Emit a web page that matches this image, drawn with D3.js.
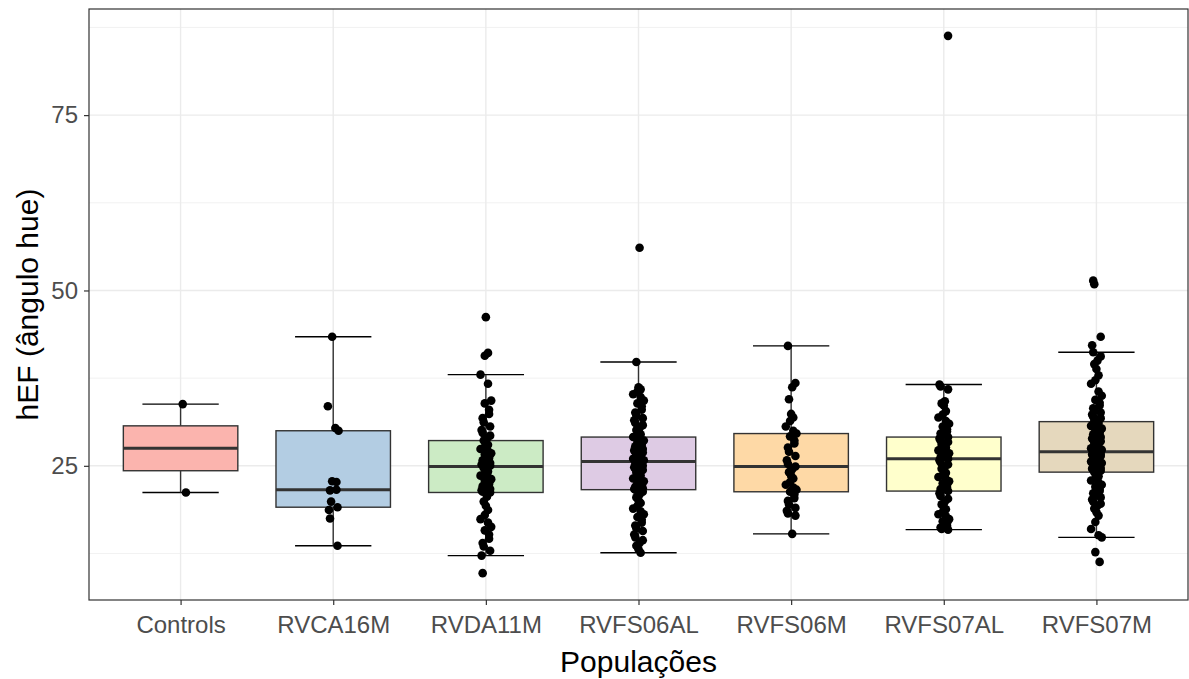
<!DOCTYPE html>
<html>
<head>
<meta charset="utf-8">
<script src="https://cdn.jsdelivr.net/npm/d3@7/dist/d3.min.js"></script>
<style>
  body { margin: 0; background: #fff; }
  svg text { font-family: "Liberation Sans", Arial, sans-serif; }
</style>
</head>
<body>
<div id="chart"></div>
<script>
// populations on the x axis
var populations = ["Controls", "RVCA16M", "RVDA11M", "RVFS06AL", "RVFS06M", "RVFS07AL", "RVFS07M"];

// box statistics
var whiskerLow  = [21.2, 13.6, 12.2, 12.6, 15.3, 15.9, 14.8];
var q1          = [24.3, 19.1, 21.2, 21.6, 21.3, 21.4, 24.1];
var medians     = [27.5, 21.6, 24.9, 25.6, 24.9, 26.0, 27.0];
var q3          = [30.7, 30.0, 28.6, 29.1, 29.6, 29.1, 31.3];
var whiskerHigh = [33.8, 43.4, 38.0, 39.8, 42.1, 36.6, 41.2];

// individual observations (hue angle) per population
var ptsControls = [33.8, 21.2];
var ptsRVCA16M = [43.4, 33.5, 30.4, 30.0, 22.8, 22.7, 21.6, 21.5, 19.9, 19.1, 18.7, 17.5, 13.6];
var ptsRVDA11M = [46.2, 41.1, 40.7, 38.0, 36.7, 34.3, 33.9, 33.0, 32.4, 31.8, 31.2, 30.6, 30.1, 29.7, 29.3, 28.9, 28.6,
  28.3, 28.0, 27.7, 27.4, 27.1, 26.8, 26.6, 26.3, 26.1, 25.8, 25.6, 25.4, 25.2, 25.1, 25.0, 24.9,
  24.7, 24.4, 24.2, 23.9, 23.6, 23.4, 23.1, 22.9, 22.6, 22.4, 22.1, 21.9, 21.7, 21.5, 21.3, 21.2,
  20.6, 19.9, 19.3, 18.7, 18.0, 17.4, 16.9, 16.3, 15.8, 15.2, 14.6, 14.0, 13.5, 12.9, 12.2, 9.7];
var ptsRVFS06AL = [56.1, 39.8, 36.2, 35.9, 35.6, 35.2, 34.8, 34.3, 33.9, 33.5, 33.0, 32.6, 32.2, 31.8, 31.5, 31.1, 30.8, 30.4, 30.1, 29.8, 29.5, 29.3, 29.1,
  28.9, 28.6, 28.4, 28.2, 28.0, 27.8, 27.6, 27.4, 27.2, 27.0, 26.9, 26.7, 26.5, 26.4, 26.3, 26.1, 26.0, 25.9, 25.8, 25.7, 25.7, 25.6,
  25.4, 25.2, 25.0, 24.8, 24.6, 24.4, 24.2, 24.0, 23.8, 23.6, 23.4, 23.2, 23.0, 22.8, 22.6, 22.4, 22.2, 22.0, 21.9, 21.8, 21.7, 21.6,
  21.3, 20.9, 20.5, 20.1, 19.7, 19.3, 18.9, 18.5, 18.1, 17.7, 17.3, 16.9, 16.5, 16.1, 15.7, 15.2, 14.8, 14.4, 14.0, 13.6, 13.1, 12.6];
var ptsRVFS06M = [42.1, 36.8, 36.2, 34.5, 32.4, 31.9, 31.4, 30.6, 30.0, 29.6,
  29.2, 28.6, 28.2, 27.6, 27.0, 26.4, 25.8, 25.3, 24.9,
  24.5, 24.1, 23.6, 23.2, 22.7, 22.3, 21.9, 21.6, 21.3,
  20.9, 20.4, 20.0, 19.5, 19.0, 18.6, 18.2, 17.9, 15.3];
var ptsRVFS07AL = [86.3, 36.6, 36.3, 35.9, 34.2, 33.9, 33.6, 32.8, 32.3, 31.9, 31.4, 31.0, 30.6, 30.2, 29.9, 29.6, 29.3, 29.1,
  28.9, 28.6, 28.4, 28.2, 28.0, 27.8, 27.6, 27.4, 27.2, 27.0, 26.8, 26.6, 26.4, 26.3, 26.2, 26.1, 26.0,
  25.8, 25.5, 25.2, 24.9, 24.6, 24.3, 24.0, 23.7, 23.4, 23.1, 22.8, 22.5, 22.2, 21.9, 21.7, 21.5, 21.4,
  21.1, 20.7, 20.3, 19.9, 19.5, 19.1, 18.8, 18.4, 18.1, 17.8, 17.4, 17.1, 16.8, 16.5, 16.2, 16.0, 15.9];
var ptsRVFS07M = [51.4, 50.9, 43.4, 42.2, 41.2, 40.6, 40.0, 39.5, 38.8, 37.9, 37.2, 36.7, 35.6, 35.0, 34.4, 34.0, 33.6, 33.2, 32.9, 32.6, 32.3, 32.0, 31.8, 31.6, 31.4, 31.3,
  31.1, 30.9, 30.7, 30.5, 30.3, 30.1, 29.9, 29.7, 29.5, 29.3, 29.1, 28.9, 28.7, 28.5, 28.3, 28.1, 27.9, 27.8, 27.6, 27.5, 27.4, 27.3, 27.2, 27.1, 27.0,
  26.9, 26.8, 26.7, 26.6, 26.5, 26.4, 26.2, 26.1, 26.0, 25.9, 25.8, 25.6, 25.5, 25.4, 25.3, 25.1, 25.0, 24.9, 24.8, 24.7, 24.6, 24.4, 24.3, 24.2, 24.1,
  23.8, 23.5, 23.2, 22.9, 22.6, 22.3, 22.0, 21.7, 21.4, 21.1, 20.8, 20.5, 20.2, 19.9, 19.6, 19.3, 18.9, 18.4, 17.9, 17.0, 16.0, 15.1, 14.8, 12.7, 11.3];

var allPoints = [ptsControls, ptsRVCA16M, ptsRVDA11M, ptsRVFS06AL, ptsRVFS06M, ptsRVFS07AL, ptsRVFS07M];

// Pastel1 fills
var fills = ["#FBB4AE", "#B3CDE3", "#CCEBC5", "#DECBE4", "#FED9A6", "#FFFFCC", "#E5D8BD"];

var yTicks = [25, 50, 75];
var yMinor = [12.5, 37.5, 62.5, 87.5];

var W = 1189, H = 679;
var margin = { top: 9, right: 1, bottom: 79, left: 89 };
var width = W - margin.left - margin.right;
var height = H - margin.top - margin.bottom;

var svg = d3.select("#chart").append("svg")
  .attr("width", W)
  .attr("height", H);

var g = svg.append("g")
  .attr("transform", "translate(" + margin.left + "," + margin.top + ")");

var x = d3.scalePoint().domain(populations).range([0, width]).padding(0.6);
var step = x.step();
var y = d3.scaleLinear().domain([5.87, 90.13]).range([height, 0]);

// gridlines
g.selectAll(".minor").data(yMinor).enter().append("line")
  .attr("x1", 0).attr("x2", width)
  .attr("y1", function(d) { return y(d); }).attr("y2", function(d) { return y(d); })
  .style("stroke", "#EBEBEB").style("stroke-width", 0.7);
g.selectAll(".major").data(yTicks).enter().append("line")
  .attr("x1", 0).attr("x2", width)
  .attr("y1", function(d) { return y(d); }).attr("y2", function(d) { return y(d); })
  .style("stroke", "#EBEBEB").style("stroke-width", 1.4);
g.selectAll(".vmajor").data(populations).enter().append("line")
  .attr("x1", function(d) { return x(d); }).attr("x2", function(d) { return x(d); })
  .attr("y1", 0).attr("y2", height)
  .style("stroke", "#EBEBEB").style("stroke-width", 1.4);

var boxW = step * 0.75, capW = step * 0.5;

populations.forEach(function(p, i) {
  var cx = x(p);
  // error bar caps
  [whiskerLow[i], whiskerHigh[i]].forEach(function(v) {
    g.append("line")
      .attr("x1", cx - capW / 2).attr("x2", cx + capW / 2)
      .attr("y1", y(v)).attr("y2", y(v))
      .style("stroke", "#000").style("stroke-width", 1.4);
  });
  // whiskers
  g.append("line")
    .attr("x1", cx).attr("x2", cx)
    .attr("y1", y(whiskerHigh[i])).attr("y2", y(q3[i]))
    .style("stroke", "#333333").style("stroke-width", 1.4);
  g.append("line")
    .attr("x1", cx).attr("x2", cx)
    .attr("y1", y(q1[i])).attr("y2", y(whiskerLow[i]))
    .style("stroke", "#333333").style("stroke-width", 1.4);
  // box
  g.append("rect")
    .attr("x", cx - boxW / 2).attr("width", boxW)
    .attr("y", y(q3[i])).attr("height", y(q1[i]) - y(q3[i]))
    .style("fill", fills[i]).style("stroke", "#333333").style("stroke-width", 1.4);
  // median
  g.append("line")
    .attr("x1", cx - boxW / 2).attr("x2", cx + boxW / 2)
    .attr("y1", y(medians[i])).attr("y2", y(medians[i]))
    .style("stroke", "#333333").style("stroke-width", 3);
});

// jittered points (small fixed offsets, in band units)
var jit = [0.02, -0.03, 0.04, -0.01, 0.03, -0.04, 0.0, 0.05, -0.02, 0.01, -0.05, 0.03, -0.03, 0.02, -0.01, 0.04, -0.02];
populations.forEach(function(p, i) {
  g.selectAll(".pt" + i).data(allPoints[i]).enter().append("circle")
    .attr("cx", function(d, j) { return x(p) + jit[(j * 7 + i * 3) % jit.length] * step * 0.7; })
    .attr("cy", function(d) { return y(d); })
    .attr("r", 4.3)
    .style("fill", "#000");
});

// panel border
g.append("rect")
  .attr("x", 0).attr("y", 0).attr("width", width).attr("height", height)
  .style("fill", "none").style("stroke", "#333333").style("stroke-width", 1.2);

// axes
var yAxis = g.append("g").call(d3.axisLeft(y).tickValues(yTicks).tickSize(5).tickSizeOuter(0).tickPadding(6));
var xAxis = g.append("g").attr("transform", "translate(0," + height + ")")
  .call(d3.axisBottom(x).tickSize(5).tickSizeOuter(0).tickPadding(11));
[yAxis, xAxis].forEach(function(a) {
  a.select(".domain").remove();
  a.selectAll(".tick line").style("stroke", "#333333").style("stroke-width", 1.2);
  a.selectAll(".tick text").style("fill", "#4D4D4D").style("font-size", "24px")
    .style("font-family", "'Liberation Sans', Arial, sans-serif");
});

// axis titles
svg.append("text")
  .attr("transform", "translate(" + 38 + "," + (margin.top + height / 2) + ") rotate(-90)")
  .attr("text-anchor", "middle")
  .style("font-size", "30px").style("fill", "#000")
  .text("hEF (ângulo hue)");
svg.append("text")
  .attr("x", margin.left + width / 2).attr("y", 672)
  .attr("text-anchor", "middle")
  .style("font-size", "30px").style("fill", "#000")
  .text("Populações");
</script>
</body>
</html>
